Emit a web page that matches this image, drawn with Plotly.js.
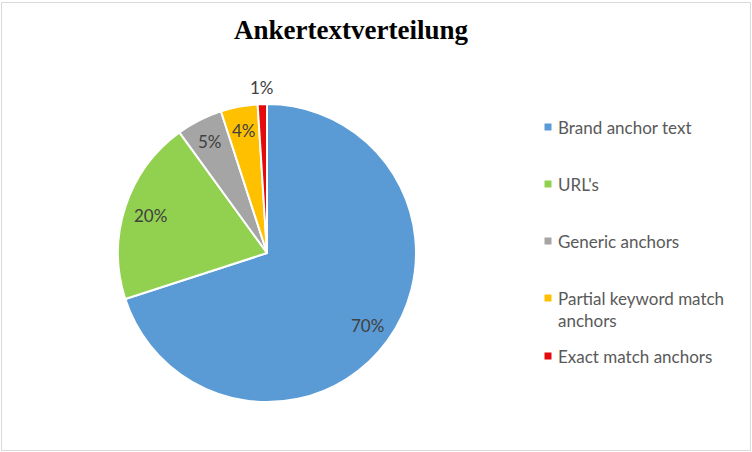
<!DOCTYPE html>
<html>
<head>
<meta charset="utf-8">
<script src="https://cdn.plot.ly/plotly-3.0.1.min.js"></script>
<style>
html,body{margin:0;padding:0;background:#fff;}
#chart{width:752px;height:452px;}
</style>
</head>
<body>
<div id="chart"></div>
<script>
const chartTitle = "Ankertextverteilung";
const categories = ["Brand anchor text", "URL's", "Generic anchors", "Partial keyword match anchors", "Exact match anchors"];
const legendLabels = ["Brand anchor text", "URL's", "Generic anchors", "Partial keyword match<br>anchors", "Exact match anchors"];
const values = [70, 20, 5, 4, 1];
const colors = ["#5b9bd5", "#92d050", "#a5a5a5", "#ffc000", "#e30b0b"];
const labelRadius = [0.83, 0.82, 0.84, 0.84, 1.11]; // fraction of pie radius

const W = 752, H = 452;
const CX = 267, CY = 253, R = 149;
const legendY = [127, 184, 241, 298, 356];
const px = x => x / W, py = y => 1 - y / H;
const FONT = "Lato, 'Open Sans', sans-serif";

const annotations = [];
const shapes = [{
  type: "rect", xref: "paper", yref: "paper",
  x0: px(1.5), x1: px(750.5), y0: py(450.5), y1: py(2.5),
  line: {color: "#d9d9d9", width: 1}, fillcolor: "rgba(0,0,0,0)"
}];
categories.forEach((c, i) => {
  shapes.push({
    type: "rect", xref: "paper", yref: "paper",
    x0: px(544.5), x1: px(551.5), y0: py(legendY[i] + 3.5), y1: py(legendY[i] - 3.5),
    line: {width: 0}, fillcolor: colors[i]
  });
  annotations.push({
    xref: "paper", yref: "paper", x: px(556), y: py(legendY[i] - 12),
    xanchor: "left", yanchor: "top", align: "left", showarrow: false,
    text: legendLabels[i],
    font: {family: FONT, size: 17, color: "#595959"}
  });
});

// percentage labels placed along each slice's mid-angle (clockwise from 12 o'clock)
const total = values.reduce((a, b) => a + b, 0);
let cum = 0;
values.forEach((v, i) => {
  const mid = (cum + v / 2) / total * 2 * Math.PI;
  cum += v;
  const r = labelRadius[i] * R;
  const x = CX + r * Math.sin(mid), y = CY - r * Math.cos(mid);
  annotations.push({
    xref: "paper", yref: "paper", x: px(x), y: py(y),
    xanchor: "center", yanchor: "middle", showarrow: false,
    text: Math.round(v / total * 100) + "%",
    font: {family: FONT, size: 17, color: "#404040"}
  });
});

const data = [{
  type: "pie",
  labels: categories,
  values: values,
  sort: false,
  direction: "clockwise",
  rotation: 0,
  marker: {colors: colors, line: {color: "#ffffff", width: 2}},
  textinfo: "none",
  showlegend: false,
  hoverinfo: "label+percent",
  domain: {x: [px(CX - R), px(CX + R)], y: [py(CY + R), py(CY - R)]}
}];

const layout = {
  width: W, height: H,
  margin: {l: 0, r: 0, t: 0, b: 0},
  paper_bgcolor: "#ffffff",
  showlegend: false,
  title: {
    text: "<b>" + chartTitle + "</b>",
    x: px(351), xanchor: "center", y: py(30), yanchor: "middle",
    font: {family: "'Liberation Serif', 'Times New Roman', serif", size: 27, color: "#000000"}
  },
  shapes: shapes,
  annotations: annotations
};

Plotly.newPlot("chart", data, layout, {displayModeBar: false, staticPlot: true});
</script>
</body>
</html>
